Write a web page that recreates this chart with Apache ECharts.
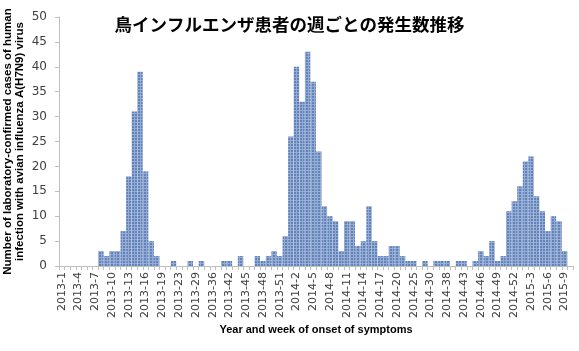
<!DOCTYPE html>
<html><head><meta charset="utf-8">
<script src="https://cdn.jsdelivr.net/npm/echarts@6/dist/echarts.min.js"></script>
<style>html,body{margin:0;padding:0;background:#fff}#c{width:579px;height:351px}</style>
</head><body><div id="c"></div>
<script>
var titleText = '鳥インフルエンザ患者の週ごとの発生数推移';
var xAxisName = 'Year and week of onset of symptoms';
var yAxisName = 'Number of laboratory-confirmed cases of human\ninfection with avian influenza A(H7N9) virus';

var weeks = [
 '2013-1','2013-2','2013-3','2013-4','2013-5','2013-6','2013-7','2013-8','2013-9','2013-10',
 '2013-11','2013-12','2013-13','2013-14','2013-15','2013-16','2013-17','2013-18','2013-19','2013-20',
 '2013-22','2013-23','2013-25','2013-27','2013-29','2013-31','2013-33','2013-36','2013-39','2013-41',
 '2013-42','2013-43','2013-44','2013-45','2013-46','2013-47','2013-48','2013-49','2013-50','2013-51',
 '2013-52','2014-1','2014-2','2014-3','2014-4','2014-5','2014-6','2014-7','2014-8','2014-9',
 '2014-10','2014-11','2014-12','2014-13','2014-14','2014-15','2014-16','2014-17','2014-18','2014-19',
 '2014-20','2014-21','2014-22','2014-25','2014-26','2014-28','2014-30','2014-31','2014-33','2014-38',
 '2014-40','2014-41','2014-43','2014-44','2014-45','2014-46','2014-47','2014-48','2014-49','2014-50',
 '2014-51','2014-52','2015-1','2015-2','2015-3','2015-4','2015-5','2015-6','2015-7','2015-8',
 '2015-9','2015-10'
];
var cases = [
 0,0,0,0,0,0,0,3,2,3,
 3,7,18,31,39,19,5,2,0,0,
 1,0,0,1,0,1,0,0,0,1,
 1,0,2,0,0,2,1,2,3,2,
 6,26,40,33,43,37,23,12,10,9,
 3,9,9,4,5,12,5,2,2,4,
 4,2,1,1,0,1,0,1,1,1,
 0,1,1,0,1,3,2,5,1,2,
 11,13,16,21,22,14,11,7,10,9,
 3,0
];
var yTicks = {min:0, max:50, step:5};

// tiled fill resembling the reference's gridded bars
var pat = document.createElement('canvas');
pat.width = 3; pat.height = 3;
var pc = pat.getContext('2d');
pc.fillStyle = '#6282ba'; pc.fillRect(0,0,3,3);
pc.fillStyle = '#94abd3'; pc.fillRect(2,0,1,3); pc.fillRect(0,2,3,1);

var chart = echarts.init(document.getElementById('c'), null, {renderer:'canvas'});
chart.setOption({
  animation:false,
  backgroundColor:'#fff',
  title:{text:titleText,left:'center',top:11,
    textStyle:{fontFamily:'Noto Sans CJK JP',fontWeight:'bold',fontSize:17.5,color:'#000'}},
  grid:{left:59,right:6,top:17,bottom:85,containLabel:false,outerBoundsMode:'none'},
  xAxis:{type:'category',data:weeks,
    name:xAxisName,nameLocation:'middle',nameGap:58,nameMoveOverlap:false,
    nameTextStyle:{fontFamily:'Liberation Sans',fontWeight:'bold',fontSize:11,color:'#000'},
    axisLine:{lineStyle:{color:'#bfbfbf'}},
    axisTick:{show:true,interval:0,length:4,lineStyle:{color:'#bfbfbf'}},
    axisLabel:{interval:2,rotate:90,fontSize:11,color:'#404040',fontFamily:'DejaVu Sans',margin:6},
    splitLine:{show:false}},
  yAxis:{type:'value',min:yTicks.min,max:yTicks.max,interval:yTicks.step,
    name:yAxisName,nameLocation:'middle',nameRotate:90,nameGap:33,nameMoveOverlap:false,
    nameTextStyle:{fontFamily:'Liberation Sans',fontWeight:'bold',fontSize:11.5,color:'#000',lineHeight:12},
    axisLine:{show:true,lineStyle:{color:'#bfbfbf'}},
    axisTick:{show:true,length:4,lineStyle:{color:'#bfbfbf'}},
    axisLabel:{fontSize:12,color:'#404040',fontFamily:'DejaVu Sans',margin:12},
    splitLine:{show:false}},
  series:[{type:'bar',data:cases,barCategoryGap:'3%',
    itemStyle:{color:{image:pat,repeat:'repeat'}}}]
});
</script></body></html>
